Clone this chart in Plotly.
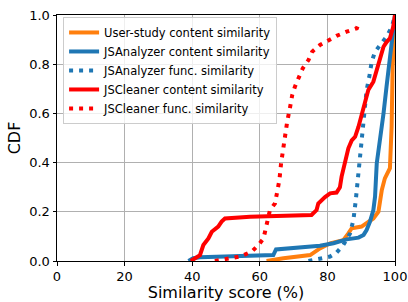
import plotly.graph_objects as go

# User-study content similarity
user_x = [62.0, 67.0, 74.9, 77.8, 80.8, 84.7, 86.2, 87.2, 90.1, 91.6, 93.6, 95.1, 95.6, 96.1, 97.0, 98.5, 99.0, 99.3, 100.0]
user_y = [0.0, 0.011, 0.024, 0.051, 0.072, 0.085, 0.112, 0.133, 0.14, 0.153, 0.173, 0.2, 0.248, 0.289, 0.336, 0.377, 0.546, 0.79, 1.0]

# JSAnalyzer content similarity
jsa_c_x = [38.9, 40.3, 42.3, 52.2, 64.0, 64.8, 71.9, 77.8, 81.8, 85.7, 89.2, 90.7, 91.6, 92.6, 93.6, 94.1, 94.6, 95.6, 96.6, 97.5, 98.5, 99.5, 100.0]
jsa_c_y = [0.0, 0.011, 0.015, 0.018, 0.024, 0.047, 0.056, 0.062, 0.072, 0.088, 0.095, 0.106, 0.126, 0.16, 0.207, 0.262, 0.397, 0.492, 0.6, 0.709, 0.817, 0.925, 1.0]

# JSAnalyzer func. similarity
jsa_f_x = [74.4, 77.8, 80.8, 82.7, 84.7, 86.7, 87.7, 88.4, 89.0, 89.6, 90.1, 90.6, 91.1, 91.6, 92.4, 93.1, 94.1, 95.6, 97.5, 99.1, 100.0]
jsa_f_y = [0.0, 0.011, 0.018, 0.034, 0.065, 0.112, 0.167, 0.248, 0.329, 0.424, 0.492, 0.573, 0.627, 0.695, 0.749, 0.81, 0.851, 0.878, 0.912, 0.953, 1.0]

# JSCleaner content similarity
jsc_c_x = [39.6, 40.8, 42.3, 43.3, 44.8, 45.8, 47.7, 48.7, 49.7, 57.1, 75.3, 76.8, 77.3, 79.3, 80.8, 82.7, 83.7, 84.2, 85.2, 86.2, 87.2, 88.2, 89.2, 90.1, 91.1, 92.1, 93.6, 94.6, 95.6, 96.6, 97.5, 98.5, 99.5, 100.0]
jsc_c_y = [0.0, 0.01, 0.024, 0.065, 0.092, 0.119, 0.14, 0.16, 0.173, 0.18, 0.187, 0.207, 0.234, 0.26, 0.275, 0.278, 0.3, 0.343, 0.41, 0.458, 0.49, 0.505, 0.546, 0.593, 0.654, 0.695, 0.729, 0.776, 0.817, 0.871, 0.89, 0.905, 0.953, 1.0]

# JSCleaner func. similarity
jsc_f_x = [46.7, 50.2, 54.1, 57.6, 59.6, 61.1, 61.7, 62.3, 63.0, 64.5, 65.0, 65.8, 66.3, 67.0, 67.6, 68.1, 68.9, 69.6, 70.4, 71.6, 72.7, 74.4, 75.5, 77.8, 80.3, 82.7, 85.7, 88.7, 89.6]
jsc_f_y = [0.0, 0.01, 0.018, 0.038, 0.065, 0.092, 0.126, 0.167, 0.207, 0.234, 0.275, 0.329, 0.397, 0.472, 0.526, 0.566, 0.621, 0.675, 0.709, 0.749, 0.783, 0.817, 0.851, 0.878, 0.898, 0.915, 0.932, 0.946, 0.977]

x_ticks = [0, 20, 40, 60, 80, 100]
y_ticks = [0.0, 0.2, 0.4, 0.6, 0.8, 1.0]

series = [
    ("User-study content similarity", user_x, user_y, "#ff7f0e", "solid"),
    ("JSAnalyzer content similarity", jsa_c_x, jsa_c_y, "#1f77b4", "solid"),
    ("JSAnalyzer func. similarity", jsa_f_x, jsa_f_y, "#1f77b4", "4px,6px"),
    ("JSCleaner content similarity", jsc_c_x, jsc_c_y, "#ff0000", "solid"),
    ("JSCleaner func. similarity", jsc_f_x, jsc_f_y, "#ff0000", "4px,6px"),
]

fig = go.Figure()
for name, xs, ys, color, dash in series:
    fig.add_trace(go.Scatter(x=xs, y=ys, mode="lines", name=name,
                             line=dict(color=color, width=4, dash=dash)))

font = "DejaVu Sans"
axis_common = dict(
    showgrid=True, gridcolor="#b0b0b0", gridwidth=1,
    showline=True, linecolor="black", linewidth=1, mirror=True,
    ticks="outside", ticklen=3.5, tickcolor="black", automargin=False,
    zeroline=False, tickfont=dict(size=13), ticklabeloverflow="allow",
)
fig.update_layout(
    width=408, height=302,
    margin=dict(l=57, r=13, t=15, b=41, autoexpand=False),
    paper_bgcolor="white", plot_bgcolor="white",
    font=dict(family=font, size=13, color="black"),
    showlegend=True,
    legend=dict(x=0.018, y=0.992, xanchor="left", yanchor="top",
                bgcolor="rgba(255,255,255,0.8)", bordercolor="#cccccc", borderwidth=1,
                font=dict(family=font, size=11.5, color="black"),
                tracegroupgap=0),
    xaxis=dict(range=[0, 100], tickvals=x_ticks, ticktext=[str(v) for v in x_ticks],
               title=dict(text="Similarity score (%)", standoff=2), **axis_common),
    yaxis=dict(range=[0, 1], tickvals=y_ticks, ticktext=[f"{v:.1f}" for v in y_ticks],
               title=dict(text="CDF", standoff=4), **axis_common),
)

fig.write_html("out.html", config={"displayModeBar": False},
               post_script="document.body.style.margin='0';document.body.style.overflow='hidden';")
